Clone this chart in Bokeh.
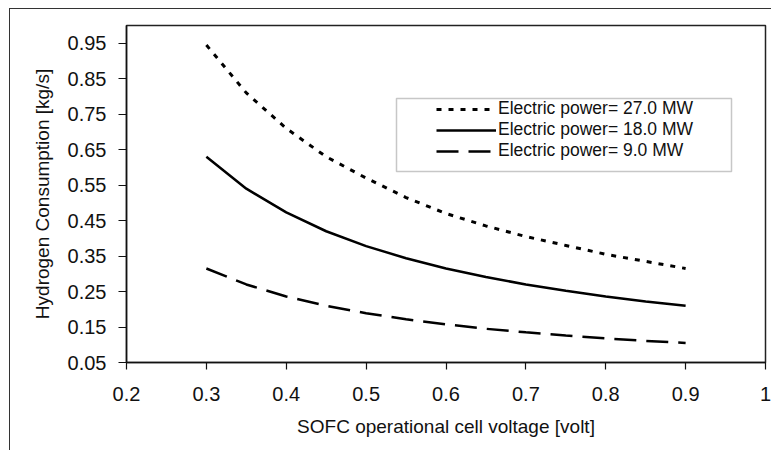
from bokeh.plotting import figure
from bokeh.models import (Range1d, FixedTicker, PrintfTickFormatter, CustomJSTickFormatter,
                          Legend, LegendItem, BoxAnnotation)
from bokeh.embed import file_html
from bokeh.resources import INLINE

# ---- data ----
voltage = [0.30, 0.35, 0.40, 0.45, 0.50, 0.55, 0.60, 0.65, 0.70, 0.75, 0.80, 0.85, 0.90]
h2_27mw = [0.945, 0.81, 0.71, 0.63, 0.57, 0.515, 0.47, 0.435, 0.405, 0.38, 0.355, 0.335, 0.315]
h2_18mw = [0.63, 0.54, 0.473, 0.42, 0.378, 0.344, 0.315, 0.291, 0.27, 0.252, 0.236, 0.222, 0.21]
h2_9mw = [0.315, 0.27, 0.236, 0.21, 0.189, 0.172, 0.1575, 0.145, 0.135, 0.126, 0.118, 0.111, 0.105]
labels = ["Electric power= 27.0 MW", "Electric power= 18.0 MW", "Electric power= 9.0 MW"]
x_ticks = [0.2, 0.3, 0.4, 0.5, 0.6, 0.7, 0.8, 0.9, 1.0]
y_ticks = [0.05, 0.15, 0.25, 0.35, 0.45, 0.55, 0.65, 0.75, 0.85, 0.95]

FONT = "Liberation Sans"

p = figure(width=762, height=442, output_backend="svg", toolbar_location=None,
           x_range=Range1d(0.2, 1.0), y_range=Range1d(0.05, 1.0),
           min_border_left=116, min_border_right=7, min_border_top=16, min_border_bottom=89)
# outer chart frame (open to the right and bottom, as in the reference crop)
p.styles = {"margin-left": "9px", "margin-top": "8px",
            "border-left": "1px solid #333333", "border-top": "1px solid #333333"}
p.xgrid.visible = False
p.ygrid.visible = False
p.background_fill_color = "white"
p.border_fill_color = "white"
p.outline_line_color = "#222222"
p.outline_line_width = 1.5

for ax in (p.xaxis[0], p.yaxis[0]):
    ax.axis_line_color = "#111111"
    ax.axis_line_width = 1.5
    ax.major_tick_line_color = "#111111"
    ax.major_tick_line_width = 1.2
    ax.major_tick_in = 0
    ax.minor_tick_line_color = None
    ax.major_label_text_font = FONT
    ax.major_label_text_font_size = "20px"
    ax.major_label_text_color = "#111111"
    ax.axis_label_text_font = FONT
    ax.axis_label_text_font_size = "19px"
    ax.axis_label_text_font_style = "normal"
    ax.axis_label_text_color = "#111111"

p.xaxis.ticker = FixedTicker(ticks=x_ticks)
p.yaxis.ticker = FixedTicker(ticks=y_ticks)
p.xaxis.formatter = CustomJSTickFormatter(code="return tick > 0.999 ? '1' : tick.toFixed(1);")
p.yaxis.formatter = PrintfTickFormatter(format="%.2f")
p.xaxis.major_tick_out = 7
p.yaxis.major_tick_out = 8
p.xaxis.major_label_standoff = 17
p.yaxis.major_label_standoff = 12
p.xaxis.axis_label = "SOFC operational cell voltage [volt]"
p.yaxis.axis_label = "Hydrogen Consumption [kg/s]"
p.xaxis.axis_label_standoff = 12
p.yaxis.axis_label_standoff = 12

r1 = p.line(voltage, h2_27mw, line_color="black", line_width=3, line_dash="5 7")
r2 = p.line(voltage, h2_18mw, line_color="black", line_width=2.5)
r3 = p.line(voltage, h2_9mw, line_color="black", line_width=2.5, line_dash="22 10")

# legend frame (screen units relative to the plot frame)
p.add_layout(BoxAnnotation(left=270, right=605, bottom=191, top=264,
                           left_units="screen", right_units="screen",
                           top_units="screen", bottom_units="screen",
                           fill_color="white", fill_alpha=1.0,
                           line_color="#444444", line_width=1.5))

legend = Legend(items=[LegendItem(label=labels[0], renderers=[r1]),
                       LegendItem(label=labels[1], renderers=[r2]),
                       LegendItem(label=labels[2], renderers=[r3])],
                location=(310, 201), padding=0, spacing=0, margin=0,
                glyph_width=60, glyph_height=20, label_height=20, label_standoff=2,
                label_text_font=FONT, label_text_font_size="17.5px", label_text_color="#111111",
                border_line_alpha=0, background_fill_alpha=0)
p.add_layout(legend)

open("out.html", "w").write(file_html(p, INLINE))
